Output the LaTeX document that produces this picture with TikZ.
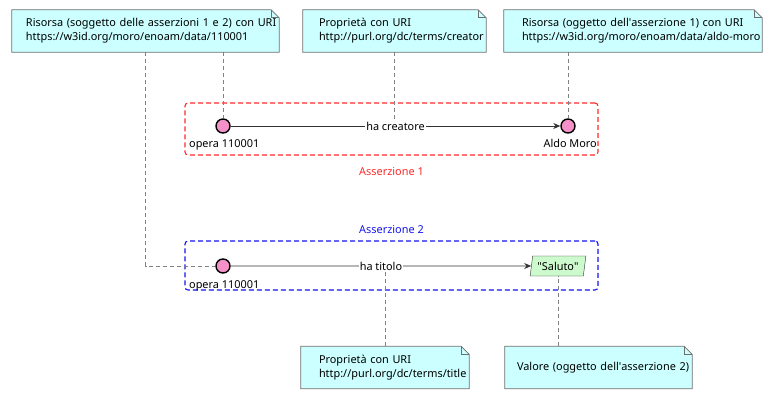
\documentclass[tikz,border=0pt]{standalone}
\usepackage{fontspec}
\setmainfont{Noto Sans}
\usetikzlibrary{arrows.meta,shapes.geometric,positioning,backgrounds}

\definecolor{notefill}{RGB}{204,255,255}
\definecolor{notedraw}{RGB}{110,110,110}
\definecolor{respink}{RGB}{245,145,200}
\definecolor{litgreen}{RGB}{204,250,204}
\definecolor{linkgray}{RGB}{130,130,130}
\definecolor{relgray}{RGB}{50,50,50}
\definecolor{grpred}{RGB}{255,40,40}
\definecolor{grpblue}{RGB}{20,20,240}

\begin{document}
\begin{tikzpicture}[x=1pt,y=-1pt,
  font=\fontsize{10.9}{14}\selectfont,
  note/.style={text width=#1, align=left, inner xsep=14pt, minimum height=42pt},
  res/.style={circle, draw=black, line width=1.4pt, fill=respink, minimum size=14pt, inner sep=0pt},
  lit/.style={trapezium, trapezium left angle=76, trapezium right angle=104, trapezium stretches=true,
    draw=relgray, fill=litgreen, minimum width=56pt, minimum height=20pt, inner sep=0pt},
  grp/.style={draw=#1, dash pattern=on 5pt off 3pt, line width=1.1pt, rounded corners=3pt, minimum width=413pt},
  link/.style={draw=linkgray, dash pattern=on 4pt off 3pt, line width=0.9pt},
  rel/.style={draw=relgray, line width=0.8pt, -{Stealth[length=7pt,width=6pt]}},
  lbl/.style={fill=white, inner sep=1pt}
]
\pgfmathsetmacro{\F}{8}
\useasboundingbox (0,0) rectangle (772,400);

% notes
\node[note=239pt] (n1) at (145.5,31) {\mbox{Risorsa (soggetto delle asserzioni 1 e 2) con URI}\\https://w3id.org/moro/enoam/data/110001};
\node[note=151pt, inner xsep=16pt] (n2) at (394.5,31) {\mbox{Proprietà con URI}\\http://purl.org/dc/terms/creator};
\node[note=222pt, inner xsep=18pt] (n3) at (633,31) {\mbox{Risorsa (oggetto dell\textquotesingle asserzione 1) con URI}\\\mbox{https://w3id.org/moro/enoam/data/aldo-moro}};
\node[note=132pt, inner xsep=18pt] (n4) at (385,367.5) {\mbox{Proprietà con URI}\\http://purl.org/dc/terms/title};
\node[note=163pt, inner xsep=12pt] (n5) at (598.5,367.5) {\mbox{Valore (oggetto dell\textquotesingle asserzione 2)}};

% asserzione 1
\node[grp=grpred, minimum height=52pt] (a1) at (391.5,129) {};
\node[text=grpred, below=8pt of a1] (t1) {Asserzione 1};
\node[res] (c1) at (223,126) {};
\node[res] (c2) at (568,126) {};
\node[anchor=base west, inner sep=0pt] (o1) at (189,147) {opera 110001};
\node[anchor=base east, inner sep=0pt] (o2) at (597,147) {Aldo Moro};
\draw[rel] (c1) -- node[lbl] (l1) {ha creatore} (c2);

% asserzione 2
\node[grp=grpblue, minimum height=49pt] (a2) at (391.5,265.5) {};
\node[text=grpblue, above=3pt of a2] (t2) {Asserzione 2};
\node[res] (c3) at (223,266) {};
\node[lit] (s) at (558,266) {\textquotedbl Saluto\textquotedbl};
\node[anchor=base west, inner sep=0pt] (o3) at (189,288) {opera 110001};
\draw[rel] (c3) -- node[lbl] (l2) {ha titolo} (s);

% links
\draw[link] (n1.south -| c1) -- (c1.north);
\draw[link] (n1.south) |- (c3.west);
\draw[link] (n2.south) -- (n2.south |- l1.north);
\draw[link] (n3.south -| c2) -- (c2.north);
\draw[link] (n4.north) -- (n4.north |- l2.south);
\draw[link] (n5.north -| s.south) -- (s.south);

\begin{scope}[on background layer]
\foreach \n in {n1,n2,n3,n4,n5} {
  \filldraw[fill=notefill, draw=notedraw, line width=0.8pt] (\n.north west) -- ([xshift=-\F pt]\n.north east)
    -- ([yshift=-\F pt]\n.north east) -- (\n.south east) -- (\n.south west) -- cycle;
  \draw[notedraw, line width=0.8pt] ([xshift=-\F pt]\n.north east) -- ([xshift=-\F pt,yshift=-\F pt]\n.north east)
    -- ([yshift=-\F pt]\n.north east);
}
\end{scope}
\end{tikzpicture}
\end{document}
